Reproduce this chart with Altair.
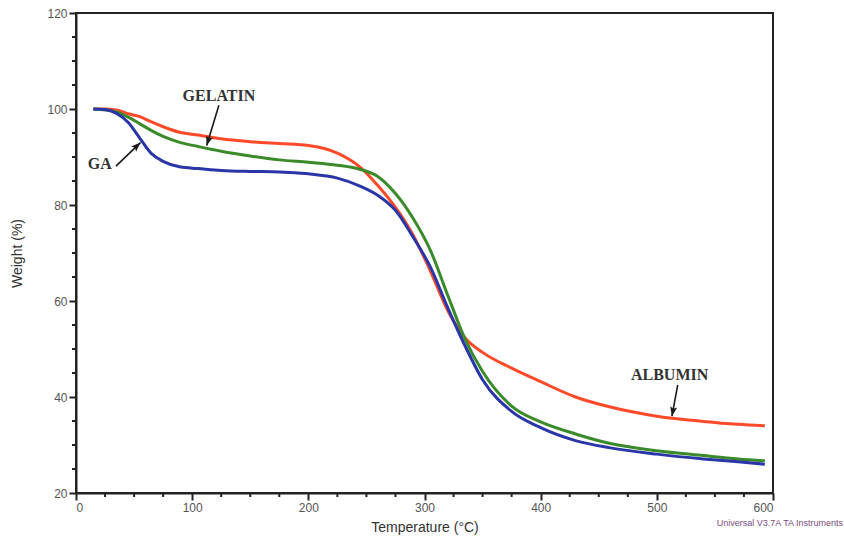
import math
import altair as alt
import pandas as pd

# ---- data ----
temps = [15, 25, 35, 45, 55, 65, 75, 90, 105, 125, 150, 175, 200, 225, 245, 260, 275,
         290, 305, 320, 335, 350, 375, 400, 430, 460, 500, 540, 570, 593]
albumin = [100.0, 100.0, 99.8, 99.0, 98.4, 97.3, 96.3, 95.1, 94.6, 93.8, 93.2, 92.8, 92.4, 90.8,
           87.8, 84.0, 79.5, 73.8, 66.3, 58.0, 52.3, 49.3, 46.0, 43.2, 40.0, 37.9, 36.0, 34.9, 34.3, 34.0]
gelatin = [100.0, 99.8, 99.4, 98.3, 96.9, 95.5, 94.3, 93.0, 92.2, 91.2, 90.2, 89.4, 88.9, 88.3,
           87.4, 85.9, 82.4, 77.3, 70.6, 61.2, 52.0, 45.3, 38.1, 34.8, 32.3, 30.3, 28.8, 27.8, 27.1, 26.7]
ga = [100.0, 99.9, 99.1, 97.2, 93.9, 90.7, 89.1, 87.9, 87.6, 87.2, 87.0, 86.9, 86.5, 85.6,
      83.9, 82.0, 78.9, 73.4, 67.1, 58.6, 50.6, 43.6, 37.0, 33.6, 30.9, 29.4, 28.1, 27.1, 26.5, 26.0]

series_names = ["ALBUMIN", "GELATIN", "GA"]
series_colors = ["#ff4a2a", "#3a8a2a", "#2a35a8"]

x_major = list(range(0, 601, 100))
y_major = list(range(20, 121, 20))
x_minor = [v for v in range(0, 601, 25) if v % 100 != 0]
y_minor = [v for v in range(20, 121, 5) if v % 20 != 0]

# annotations: label, text position, arrow start, arrow end
ann_labels = ["GELATIN", "GA", "ALBUMIN"]
ann_text_T = [123, 20.5, 511]
ann_text_W = [102.7, 88.5, 44.6]
arrow_start_T = [123, 34.4, 518]
arrow_start_W = [100.8, 88.1, 42.5]
arrow_end_T = [112.5, 55.5, 513]
arrow_end_W = [92.4, 93.0, 36.0]

footer = "Universal V3.7A TA Instruments"

# ---- layout ----
PW, PH = 697, 480
px_T = PW / 600.0
px_W = PH / 100.0

rows = []
for name, vals in zip(series_names, [albumin, gelatin, ga]):
    for t, w in zip(temps, vals):
        rows.append({"series": name, "T": t, "W": w})
df = pd.DataFrame(rows)

angles = []
for sT, sW, eT, eW in zip(arrow_start_T, arrow_start_W, arrow_end_T, arrow_end_W):
    dx = (eT - sT) * px_T
    dy = -(eW - sW) * px_W
    angles.append(math.degrees(math.atan2(dx, -dy)) % 360)

ann = pd.DataFrame({
    "label": ann_labels, "tT": ann_text_T, "tW": ann_text_W,
    "sT": arrow_start_T, "sW": arrow_start_W,
    "eT": arrow_end_T, "eW": arrow_end_W, "angle": angles,
})

xscale = alt.Scale(domain=[0, 600], nice=False, zero=False)
yscale = alt.Scale(domain=[20, 120], nice=False, zero=False)

xaxis = alt.Axis(
    values=x_major, tickSize=7,
    grid=False, title="Temperature (°C)",
    titleX=348.5, titleY=34, titleBaseline="middle", titleAnchor="middle",
)
yaxis = alt.Axis(
    values=y_major, tickSize=7,
    grid=False, title="Weight (%)",
    titleX=-59, titleY=240, titleBaseline="middle", titleAnchor="middle",
)

lines = alt.Chart(df).mark_line(strokeWidth=3, interpolate="monotone").encode(
    x=alt.X("T:Q", scale=xscale, axis=xaxis),
    y=alt.Y("W:Q", scale=yscale, axis=yaxis),
    color=alt.Color("series:N", scale=alt.Scale(domain=series_names, range=series_colors), legend=None),
    detail="series:N",
)

# minor ticks
xminor = alt.Chart(pd.DataFrame({"v": x_minor})).mark_rule(color="#222222", strokeWidth=2, clip=False).encode(
    x=alt.X("v:Q", scale=xscale), y=alt.value(PH), y2=alt.value(PH + 4),
)
yminor = alt.Chart(pd.DataFrame({"v": y_minor})).mark_rule(color="#222222", strokeWidth=2, clip=False).encode(
    y=alt.Y("v:Q", scale=yscale), x=alt.value(0), x2=alt.value(-4),
)

arrows = alt.Chart(ann).mark_rule(strokeWidth=1.6, color="#1a1a1a").encode(
    x=alt.X("sT:Q", scale=xscale), y=alt.Y("sW:Q", scale=yscale),
    x2="eT:Q", y2="eW:Q",
)

heads = alt.Chart(ann).mark_point(
    shape="M0,0L-0.75,2L0,1.6L0.75,2Z", size=90, filled=True, color="#1a1a1a", opacity=1,
).encode(
    x=alt.X("eT:Q", scale=xscale), y=alt.Y("eW:Q", scale=yscale),
    angle=alt.Angle("angle:Q", scale=None),
)

labels = alt.Chart(ann).mark_text(
    font="Liberation Serif", fontWeight="bold", fontSize=16, color="#333333",
    align="center", baseline="middle",
).encode(
    x=alt.X("tT:Q", scale=xscale), y=alt.Y("tW:Q", scale=yscale), text="label:N",
)

foot = alt.Chart(pd.DataFrame({"t": [footer]})).mark_text(
    font="Liberation Sans", fontSize=9, color="#7a4a80", align="right", baseline="middle",
).encode(x=alt.value(767), y=alt.value(510), text="t:N")

chart = alt.layer(lines, xminor, yminor, arrows, heads, labels, foot).properties(
    width=PW, height=PH,
    autosize=alt.AutoSizeParams(type="none"),
    padding={"left": 76, "top": 13, "right": 71, "bottom": 47},
    background="white",
).configure_view(
    stroke="#222222", strokeWidth=2,
).configure_axis(
    domainColor="#222222", domainWidth=2,
    tickColor="#222222", tickWidth=2,
    labelFont="Liberation Sans", labelFontSize=12, labelColor="#555555", labelPadding=2,
    titleFont="Liberation Sans", titleFontSize=14, titleFontWeight="normal", titleColor="#333333",
)

chart.save("out.html", embed_options={"renderer": "svg", "actions": False})
